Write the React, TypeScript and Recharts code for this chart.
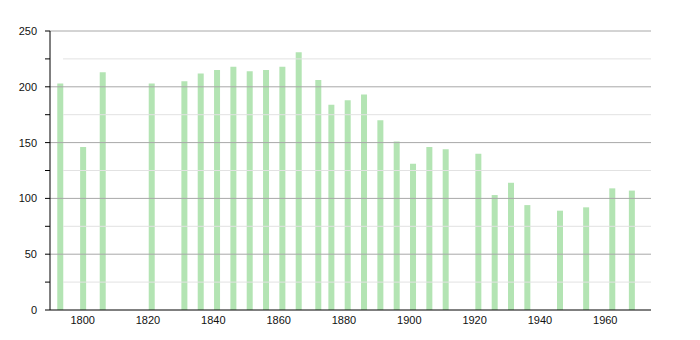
import { Bar, BarChart, ReferenceLine, XAxis, YAxis } from "recharts";

const years = [
  1793, 1800, 1806, 1821, 1831, 1836, 1841, 1846, 1851, 1856, 1861, 1866, 1872, 1876, 1881,
  1886, 1891, 1896, 1901, 1906, 1911, 1921, 1926, 1931, 1936, 1946, 1954, 1962, 1968,
];
const population = [
  203, 146, 213, 203, 205, 212, 215, 218, 214, 215, 218, 231, 206, 184, 188,
  193, 170, 151, 131, 146, 144, 140, 103, 114, 94, 89, 92, 109, 107,
];
const xTicks = [1800, 1820, 1840, 1860, 1880, 1900, 1920, 1940, 1960];
const yTicks = [0, 25, 50, 75, 100, 125, 150, 175, 200, 225, 250];
const majorLines = [50, 100, 150, 200, 250];
const minorLines = [25, 75, 125, 175, 225];

const font = "'Liberation Sans', Arial, sans-serif";

export default function App() {
  const data = years.map((y, i) => ({ year: y, value: population[i] }));

  return (
    <div style={{ width: 684, height: 324, fontFamily: font }}>
      <BarChart
        width={684}
        height={324}
        data={data}
        margin={{ top: 23, right: 41, left: 12, bottom: 2 }}
      >
        {minorLines.map((v) => (
          <ReferenceLine
            key={"m" + v}
            segment={[
              { x: 1794, y: v },
              { x: 1974, y: v },
            ]}
            stroke="#e2e2e2"
            strokeWidth={1}
          />
        ))}
        {majorLines.map((v) => (
          <ReferenceLine key={"M" + v} y={v} stroke="#a8a8a8" strokeWidth={1} />
        ))}
        <XAxis
          dataKey="year"
          type="number"
          domain={[1790, 1974]}
          ticks={xTicks}
          allowDataOverflow
          height={20}
          tickSize={0}
          tickMargin={6}
          axisLine={{ stroke: "#000" }}
          tick={{ fontSize: 11, fill: "#111", fontFamily: font }}
        />
        <YAxis
          type="number"
          domain={[0, 250]}
          ticks={yTicks}
          width={30}
          interval={0}
          tickSize={5}
          tickMargin={8}
          tickFormatter={(v: number) => (v % 50 === 0 ? String(v) : "")}
          axisLine={{ stroke: "#000" }}
          tickLine={{ stroke: "#000" }}
          tick={{ fontSize: 11, fill: "#111", fontFamily: font }}
        />
        <Bar dataKey="value" fill="#b3e4b3" barSize={6} isAnimationActive={false} />
      </BarChart>
    </div>
  );
}
